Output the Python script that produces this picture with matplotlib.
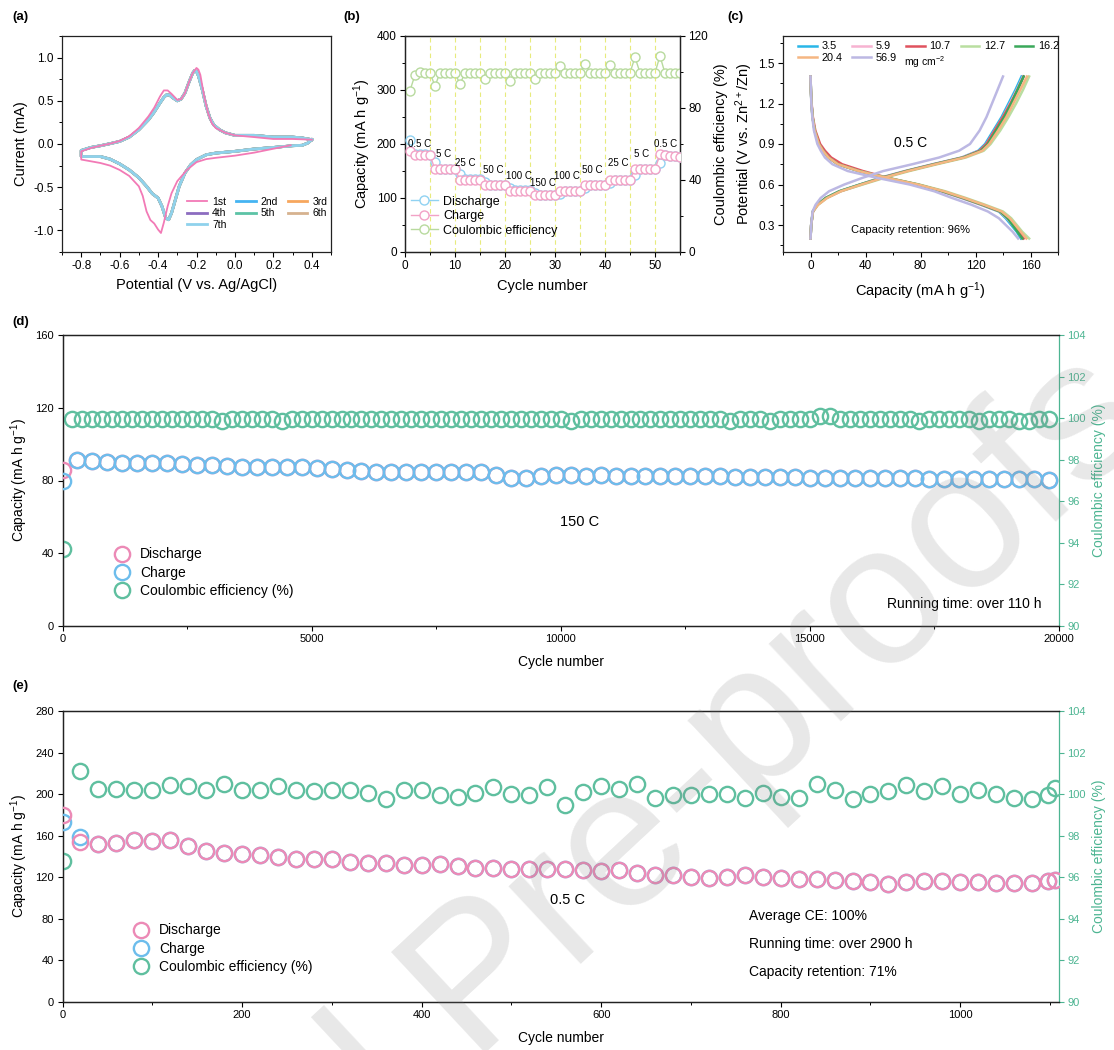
import matplotlib
matplotlib.use('Agg')
import matplotlib.pyplot as plt
from matplotlib.lines import Line2D
from matplotlib.ticker import MultipleLocator

plt.rcParams['font.family'] = ['Liberation Sans', 'DejaVu Sans']
plt.rcParams['mathtext.fontset'] = 'custom'
plt.rcParams['mathtext.rm'] = 'Liberation Sans'
plt.rcParams['mathtext.it'] = 'Liberation Sans:italic'
plt.rcParams['axes.linewidth'] = 0.9
plt.rcParams['axes.edgecolor'] = '#222222'

# ---------------- (a) CV data ----------------
cv1_E = [0.29, 0.2, 0.1, 0.0, -0.1, -0.15, -0.2, -0.25, -0.3, -0.33, -0.35, -0.37, -0.385, -0.40,
         -0.42, -0.44, -0.46, -0.48, -0.5, -0.55, -0.6, -0.65, -0.7, -0.75, -0.8,
         -0.8, -0.75, -0.7, -0.65, -0.6, -0.55, -0.5, -0.45, -0.42, -0.39, -0.37, -0.35, -0.33,
         -0.3, -0.28, -0.26, -0.24, -0.22, -0.2, -0.19, -0.18, -0.16, -0.14, -0.12, -0.1, -0.05,
         0.0, 0.1, 0.2, 0.3, 0.4]
cv1_I = [-0.015, -0.055, -0.10, -0.135, -0.16, -0.175, -0.21, -0.30, -0.43, -0.57, -0.72, -0.91, -1.03, -0.99,
         -0.92, -0.88, -0.78, -0.60, -0.49, -0.37, -0.30, -0.25, -0.22, -0.20, -0.18,
         -0.085, -0.046, -0.02, 0.004, 0.035, 0.09, 0.185, 0.32, 0.42, 0.55, 0.62, 0.62, 0.58,
         0.51, 0.52, 0.59, 0.71, 0.82, 0.88, 0.86, 0.80, 0.55, 0.36, 0.24, 0.185, 0.13,
         0.10, 0.08, 0.058, 0.058, 0.05]
cvn_E = [0.4, 0.38, 0.35, 0.3, 0.2, 0.1, 0.0, -0.1, -0.15, -0.2, -0.23, -0.26, -0.29, -0.31, -0.33,
         -0.345, -0.36, -0.38, -0.4, -0.43, -0.46, -0.5, -0.55, -0.6, -0.65, -0.7, -0.75, -0.8,
         -0.8, -0.75, -0.7, -0.65, -0.6, -0.55, -0.5, -0.45, -0.42, -0.39, -0.37, -0.355, -0.34,
         -0.32, -0.3, -0.28, -0.26, -0.24, -0.22, -0.21, -0.2, -0.19, -0.17, -0.15, -0.13, -0.11,
         -0.08, -0.05, 0.0, 0.1, 0.2, 0.3, 0.35, 0.4]
cvn_I = [0.05, 0.012, -0.015, -0.02, -0.04, -0.058, -0.085, -0.105, -0.125, -0.18, -0.24, -0.335, -0.49, -0.645, -0.80,
         -0.876, -0.857, -0.72, -0.625, -0.575, -0.49, -0.39, -0.30, -0.23, -0.175, -0.145, -0.145, -0.145,
         -0.075, -0.04, -0.02, 0.004, 0.03, 0.08, 0.165, 0.28, 0.37, 0.475, 0.54, 0.57, 0.565,
         0.53, 0.50, 0.52, 0.59, 0.71, 0.82, 0.85, 0.84, 0.79, 0.63, 0.44, 0.30, 0.22,
         0.165, 0.13, 0.10, 0.10, 0.08, 0.08, 0.07, 0.05]
cv_labels = ['1st', '2nd', '3rd', '4th', '5th', '6th', '7th']
cv_colors = ['#f27ab6', '#45b4f2', '#f7a75e', '#8c6cc0', '#5cc3a6', '#d6b28f', '#8fd2ec']

# ---------------- (b) rate data ----------------
cycles_b = list(range(1, 56))
discharge_b = [207, 181, 181, 181, 180, 166, 154, 154, 154, 154, 144, 135, 135, 135, 135,
               130, 125, 125, 125, 125, 118, 114, 114, 114, 114, 110, 106, 106, 106, 106,
               108, 113, 113, 113, 113, 118, 124, 124, 124, 124, 128, 134, 134, 134, 134,
               142, 153, 153, 153, 153, 165, 180, 178, 177, 176]
charge_b = [187, 180, 180, 180, 179, 153, 153, 153, 153, 153, 134, 134, 134, 134, 134,
            124, 124, 124, 124, 124, 113, 113, 113, 113, 113, 105, 105, 105, 105, 105,
            113, 113, 113, 113, 113, 124, 124, 124, 124, 124, 134, 134, 134, 134, 134,
            153, 153, 153, 153, 153, 181, 180, 178, 177, 176]
ce_b = [89.7, 98.4, 100.2, 99.6, 99.6, 92.2, 99.6, 99.6, 99.6, 99.6, 93.2, 99.6, 99.6, 99.6, 99.6,
        96.0, 99.6, 99.6, 99.6, 99.6, 95.0, 99.6, 99.6, 99.6, 99.6, 96.3, 99.6, 99.6, 99.6, 99.6,
        103.4, 99.6, 99.6, 99.6, 99.6, 104.5, 99.6, 99.6, 99.6, 99.6, 103.7, 99.6, 99.6, 99.6, 99.6,
        108.2, 99.6, 99.6, 99.6, 99.6, 108.9, 99.3, 99.6, 99.6, 99.6]
rate_lines_b = [5, 10, 15, 20, 25, 30, 35, 40, 45, 50]
rate_labels = ['0.5 C', '5 C', '25 C', '50 C', '100 C', '150 C', '100 C', '50 C', '25 C', '5 C', '0.5 C']
rate_label_xy = [(3, 200), (7.8, 181), (12, 165), (17.6, 152), (22.8, 141), (27.6, 128),
                 (32.4, 141), (37.4, 152), (42.6, 165), (47.4, 181), (52.2, 200)]

# ---------------- (c) GCD data ----------------
loadings = ['3.5', '5.9', '10.7', '12.7', '16.2', '20.4', '56.9']
load_colors = ['#29b6e8', '#f7b3d1', '#e0525e', '#b9dea0', '#3aa85a', '#f5b682', '#bcb8e3']
v_chg = [0.20, 0.30, 0.40, 0.45, 0.50, 0.55, 0.60, 0.65, 0.70, 0.75, 0.80, 0.85, 0.90, 1.00, 1.10, 1.20, 1.30, 1.40]
cap_chg = {
    '3.5':  [0, 0.5, 1.7, 5, 11, 21, 36, 51, 69, 89, 110, 122, 127, 133, 139, 144, 149, 153.5],
    '5.9':  [0, 0.5, 1.7, 5, 11, 21, 36, 51, 69, 89, 110, 123, 128, 134, 140, 145, 150, 154.5],
    '10.7': [0, 0.5, 1.8, 5, 11.5, 22, 37, 52, 70, 90, 111, 123, 128, 134, 140, 145.5, 150.5, 155],
    '12.7': [0, 0.5, 1.8, 5.5, 12, 22, 38, 54, 72, 92, 113, 126, 131, 138, 144, 149.5, 154.5, 159],
    '16.2': [0, 0.5, 1.7, 5, 11, 21, 36, 52, 70, 90, 111, 124, 129, 135, 141, 146, 150.5, 155],
    '20.4': [0, 0.5, 1.8, 5.5, 12, 22, 37, 53, 71, 91, 112, 125, 130, 136.5, 142.5, 147.5, 152.5, 157.5],
    '56.9': [0, 0.5, 1.5, 3.7, 7.4, 13.5, 24.6, 38, 53, 74, 93.6, 108, 116, 123, 128, 132, 136, 140],
}
v_dis = [1.40, 1.30, 1.20, 1.10, 1.00, 0.90, 0.85, 0.80, 0.75, 0.70, 0.65, 0.60, 0.55, 0.50,
         0.45, 0.40, 0.35, 0.30, 0.25, 0.20]
cap_dis = {
    '3.5':  [0, 0.3, 0.7, 1.5, 3, 6, 9, 13, 20, 35, 55, 77, 95, 110, 124, 137, 142, 146, 150, 153],
    '5.9':  [0, 0.3, 0.7, 1.5, 3, 6, 9, 13, 20, 35, 55, 77, 95, 110, 124, 137.5, 143, 147, 151, 154],
    '10.7': [0, 0.3, 0.8, 1.7, 3.5, 7, 10.5, 15, 23, 38, 56, 78, 96, 111, 125, 138, 143.5, 147.5, 151.5, 155],
    '12.7': [0, 0.3, 0.7, 1.5, 3, 6, 9, 13, 20, 35, 56, 79, 98, 113, 127, 140, 146, 150, 154, 159],
    '16.2': [0, 0.3, 0.7, 1.5, 3, 6, 9, 13, 20, 35, 55, 78, 96, 111, 125, 138, 143.5, 147, 150.5, 154],
    '20.4': [0, 0.3, 0.7, 1.5, 3, 6, 9, 13, 20, 35, 55, 78, 97, 112, 126, 139, 145, 149, 153, 157],
    '56.9': [0, 0.3, 0.6, 1.3, 2.5, 5, 7.5, 10.5, 16, 27, 48, 72, 90, 103, 117, 129, 137, 142, 147, 151],
}

# ---------------- (d) 150 C long cycling ----------------
cycles_d_cap = list(range(0, 20000, 300))
charge_d = [80, 91.3, 90.9, 90.4, 89.8, 89.8, 89.8, 89.4, 88.9, 88.5, 88.5,
            88.0, 87.6, 87.6, 87.6, 87.2, 87.2, 86.9, 86.5, 85.8, 85.4,
            84.9, 84.9, 84.9, 84.9, 84.9, 84.5, 84.5, 84.7, 83.0, 81.2,
            81.2, 82.7, 83.0,
            82.8, 82.7, 82.8, 82.6, 82.6, 82.5, 82.5, 82.4, 82.3, 82.3,
            82.2, 82.0, 81.9, 81.9, 81.8, 81.7, 81.6, 81.6, 81.5, 81.4,
            81.3, 81.3, 81.2, 81.1, 81.0, 81.0, 80.9, 80.8, 80.8, 80.7,
            80.6, 80.6, 80.5]
discharge_d = [86] + charge_d[1:]
cycles_d_ce = list(range(0, 20000, 200))
ce_d = [93.7, 99.98, 99.97, 99.98, 99.98, 99.97, 99.98, 99.98, 99.97, 99.98,
        99.98, 99.97, 99.98, 99.98, 99.97, 99.98, 99.85, 99.97, 99.98, 99.98,
        99.97, 99.98, 99.85, 99.97, 99.98, 99.98, 99.97, 99.98, 99.98, 99.97,
        99.98, 99.98, 99.97, 99.98, 99.98, 99.97, 99.98, 99.98, 99.97, 99.98,
        99.98, 99.97, 99.98, 99.98, 99.97, 99.98, 99.98, 99.97, 99.98, 99.98,
        99.97, 99.85, 99.98, 99.98, 99.97, 99.98, 99.98, 99.97, 99.98, 99.98,
        99.97, 99.98, 99.98, 99.97, 99.98, 99.98, 99.97, 99.88, 99.98, 99.98,
        99.97, 99.85, 99.98, 99.98, 99.97, 99.98, 100.08, 100.10, 99.98, 99.98,
        99.97, 99.98, 99.98, 99.97, 99.98, 99.98, 99.87, 99.98, 99.98, 99.97,
        99.98, 99.98, 99.87, 99.98, 99.98, 99.97, 99.87, 99.85, 99.98, 99.98]

# ---------------- (e) 0.5 C long cycling ----------------
cycles_e = list(range(0, 1100, 20)) + [1098, 1106]
discharge_e = [180, 154, 152.3, 153, 155.5, 155, 155.5, 150, 145.3, 143.4,
               142, 141.4, 140, 137.9, 137.9, 137.3, 134.7, 133.7, 133.7, 131.5,
               131.5, 132.5, 130.9, 129.2, 129.2, 127.6, 127.6, 127.6, 128.3, 127.3,
               126, 127.3, 124, 121.9, 121.9, 120.3, 119.6, 120.3, 121.9, 120.3,
               119.3, 118, 118, 117, 116, 115.5, 113.9, 115.5, 116, 116,
               115.5, 115.5, 114.8, 114.8, 114.8, 116, 117]
charge_e = [173, 158.5] + discharge_e[2:]
ce_e = [96.77, 101.1, 100.26, 100.26, 100.2, 100.2, 100.45, 100.4, 100.18, 100.47,
        100.18, 100.2, 100.4, 100.18, 100.15, 100.18, 100.2, 100.05, 99.75, 100.2,
        100.18, 99.97, 99.86, 100.05, 100.34, 100.02, 99.94, 100.34, 99.46, 100.1,
        100.37, 100.26, 100.47, 99.81, 99.94, 99.94, 100.02, 100.02, 99.83, 100.05,
        99.86, 99.83, 100.47, 100.2, 99.78, 100.02, 100.15, 100.42, 100.15, 100.37,
        100.02, 100.18, 100.02, 99.83, 99.78, 99.94, 100.31]

# ---------------- figure ----------------
W, H = 1114, 1050
fig = plt.figure(figsize=(W / 100, H / 100), dpi=100)


def rect(l, t, r, b):
    return [l / W, 1 - b / H, (r - l) / W, (b - t) / H]


def style(ax, fs):
    ax.tick_params(which='major', direction='out', length=3.5, width=0.8, labelsize=fs, pad=2.5)
    ax.tick_params(which='minor', direction='out', length=2, width=0.7)


PINK = '#ec8ab6'
BLUE = '#6dbdec'
GREEN = '#5fbf9f'
GREEN_AX = '#4db592'

# (a)
ax = fig.add_axes(rect(62, 36, 331, 252))
ax.plot(cv1_E, cv1_I, color=cv_colors[0], lw=1.3, label=cv_labels[0], zorder=3)
for i in range(1, 7):
    ax.plot(cvn_E, cvn_I, color=cv_colors[i], lw=2.0, label=cv_labels[i], zorder=2 + i * 0.1)
ax.set_xlim(-0.9, 0.5)
ax.set_ylim(-1.25, 1.25)
ax.xaxis.set_minor_locator(MultipleLocator(0.1))
ax.yaxis.set_minor_locator(MultipleLocator(0.25))
ax.set_xticks([-0.8, -0.6, -0.4, -0.2, 0.0, 0.2, 0.4])
ax.set_xticklabels(['-0.8', '-0.6', '-0.4', '-0.2', '0.0', '0.2', '0.4'])
ax.set_yticks([-1.0, -0.5, 0.0, 0.5, 1.0])
ax.set_yticklabels(['-1.0', '-0.5', '0.0', '0.5', '1.0'])
style(ax, 8.5)
ax.set_xlabel('Potential (V vs. Ag/AgCl)', fontsize=10.5, labelpad=4)
ax.set_ylabel('Current (mA)', fontsize=10.5, labelpad=4)
h, l = ax.get_legend_handles_labels()
order = [0, 3, 6, 1, 4, 2, 5]
ax.legend([h[i] for i in order], [l[i] for i in order], ncol=3, loc='upper left',
          bbox_to_anchor=(0.465, 0.255), frameon=False, fontsize=7.5, handlelength=1.9,
          handletextpad=0.5, columnspacing=0.9, labelspacing=0.15, borderpad=0, borderaxespad=0)
ax.set_facecolor('none')

# (b)
axb = fig.add_axes(rect(405, 36, 680, 252))
axb2 = axb.twinx()
for xv in rate_lines_b:
    axb.axvline(xv, color='#e2e65c', lw=0.8, ls=(0, (4, 3)), alpha=0.8, zorder=1)
axb.plot(cycles_b, discharge_b, '-o', color='#90d2f2', mfc='white', mec='#90d2f2', ms=6.5, mew=1.0,
         lw=1.0, label='Discharge', zorder=3)
axb.plot(cycles_b, charge_b, '-o', color='#f2a2c6', mfc='white', mec='#f2a2c6', ms=6.5, mew=1.0,
         lw=1.0, label='Charge', zorder=4)
axb2.plot(cycles_b, ce_b, '-o', color='#b8da9e', mfc='white', mec='#b8da9e', ms=6.5, mew=1.0,
          lw=1.0, label='Coulombic efficiency', zorder=3)
for txt, (xx, yy) in zip(rate_labels, rate_label_xy):
    axb.text(xx, yy, txt, fontsize=7, ha='center', va='center', zorder=6)
axb.set_xlim(0, 55)
axb.set_ylim(0, 400)
axb2.set_ylim(0, 120)
axb.xaxis.set_major_locator(MultipleLocator(10))
axb.xaxis.set_minor_locator(MultipleLocator(5))
axb.yaxis.set_major_locator(MultipleLocator(100))
axb.yaxis.set_minor_locator(MultipleLocator(50))
axb2.yaxis.set_major_locator(MultipleLocator(40))
axb2.yaxis.set_minor_locator(MultipleLocator(20))
style(axb, 8.5)
style(axb2, 8.5)
axb.set_xlabel('Cycle number', fontsize=10.5, labelpad=5)
axb.set_ylabel('Capacity (mA h g$^{-1}$)', fontsize=10.5, labelpad=3)
axb2.set_ylabel('Coulombic efficiency (%)', fontsize=10.5, labelpad=4)
hb = axb.get_legend_handles_labels()
hb2 = axb2.get_legend_handles_labels()
axb.legend(hb[0] + hb2[0], hb[1] + hb2[1], loc='upper left', bbox_to_anchor=(0.02, 0.26),
           frameon=False, fontsize=9, handlelength=2.2, handletextpad=0.4, labelspacing=0.2,
           borderpad=0, borderaxespad=0)
axb.set_facecolor('none')
axb.set_zorder(2)
axb2.set_zorder(1)

# (c)
axc = fig.add_axes(rect(783, 36, 1058, 252))
lines_c = {}
for name, col in zip(loadings, load_colors):
    ln, = axc.plot(cap_chg[name], v_chg, color=col, lw=1.8, label=name)
    axc.plot(cap_dis[name], v_dis, color=col, lw=1.8)
    lines_c[name] = ln
axc.set_xlim(-20, 180)
axc.set_ylim(0.1, 1.7)
axc.xaxis.set_major_locator(MultipleLocator(40))
axc.xaxis.set_minor_locator(MultipleLocator(20))
axc.yaxis.set_major_locator(MultipleLocator(0.3))
axc.yaxis.set_minor_locator(MultipleLocator(0.15))
style(axc, 8.5)
axc.set_xlabel('Capacity (mA h g$^{-1}$)', fontsize=10.5, labelpad=6)
axc.set_ylabel('Potential (V vs. Zn$^{2+}$/Zn)', fontsize=10.5, labelpad=2)
leg_order = ['3.5', '20.4', '5.9', '56.9', '10.7', '12.7', '16.2']
axc.legend([lines_c[k] for k in leg_order], leg_order, ncol=5, loc='upper left',
           bbox_to_anchor=(0.055, 0.975), frameon=False, fontsize=7.8, handlelength=1.7,
           handletextpad=0.45, columnspacing=0.9, labelspacing=0.15, borderpad=0, borderaxespad=0)
axc.text(0.44, 0.88, 'mg cm$^{-2}$', transform=axc.transAxes, fontsize=7.5, ha='left', va='center')
axc.text(72.7, 0.904, '0.5 C', fontsize=10, ha='center', va='center')
axc.text(72.7, 0.26, 'Capacity retention: 96%', fontsize=8, ha='center', va='center')
axc.set_facecolor('none')

# (d)
axd = fig.add_axes(rect(62.5, 335, 1059, 626))
axd2 = axd.twinx()
MS, MEW = 11, 1.7
axd.plot(cycles_d_cap, discharge_d, 'o', ls='none', mfc='none', mec=PINK, ms=MS, mew=MEW, zorder=3)
axd.plot(cycles_d_cap, charge_d, 'o', ls='none', mfc='none', mec=BLUE, ms=MS, mew=MEW, zorder=4)
axd2.plot(cycles_d_ce, ce_d, 'o', ls='none', mfc='none', mec=GREEN, ms=MS, mew=MEW, zorder=3)
axd.set_xlim(0, 20000)
axd.set_ylim(0, 160)
axd2.set_ylim(90, 104)
axd.xaxis.set_major_locator(MultipleLocator(5000))
axd.xaxis.set_minor_locator(MultipleLocator(2500))
axd.yaxis.set_major_locator(MultipleLocator(40))
axd2.yaxis.set_major_locator(MultipleLocator(2))
style(axd, 8)
style(axd2, 8)
axd.set_xlabel('Cycle number', fontsize=10, labelpad=8)
axd.set_ylabel('Capacity (mA h g$^{-1}$)', fontsize=10, labelpad=4)
axd2.set_ylabel('Coulombic efficiency (%)', fontsize=10, color=GREEN_AX, labelpad=4)
axd2.tick_params(axis='y', colors=GREEN_AX)
axd2.spines['right'].set_color(GREEN_AX)
axd.spines['right'].set_visible(False)
axd.text(10385, 57.3, '150 C', fontsize=10.5, ha='center', va='center')
axd.text(19657, 12.1, 'Running time: over 110 h', fontsize=10, ha='right', va='center')

# (e)
axe = fig.add_axes(rect(62.5, 711, 1059, 1002))
axe2 = axe.twinx()
axe.plot(cycles_e, charge_e, 'o', ls='none', mfc='none', mec=BLUE, ms=MS, mew=MEW, zorder=3)
axe.plot(cycles_e, discharge_e, 'o', ls='none', mfc='none', mec=PINK, ms=MS, mew=MEW, zorder=4)
axe2.plot(cycles_e, ce_e, 'o', ls='none', mfc='none', mec=GREEN, ms=MS, mew=MEW, zorder=3)
axe.set_xlim(0, 1110)
axe.set_ylim(0, 280)
axe2.set_ylim(90, 104)
axe.xaxis.set_major_locator(MultipleLocator(200))
axe.xaxis.set_minor_locator(MultipleLocator(100))
axe.yaxis.set_major_locator(MultipleLocator(40))
axe2.yaxis.set_major_locator(MultipleLocator(2))
style(axe, 8)
style(axe2, 8)
axe.set_xlabel('Cycle number', fontsize=10, labelpad=8)
axe.set_ylabel('Capacity (mA h g$^{-1}$)', fontsize=10, labelpad=4)
axe2.set_ylabel('Coulombic efficiency (%)', fontsize=10, color=GREEN_AX, labelpad=4)
axe2.tick_params(axis='y', colors=GREEN_AX)
axe2.spines['right'].set_color(GREEN_AX)
axe.spines['right'].set_visible(False)
axe.text(562, 97.9, '0.5 C', fontsize=10.5, ha='center', va='center')
axe.text(765, 82.5, 'Average CE: 100%', fontsize=10, ha='left', va='center')
axe.text(765, 55.5, 'Running time: over 2900 h', fontsize=10, ha='left', va='center')
axe.text(765, 28.9, 'Capacity retention: 71%', fontsize=10, ha='left', va='center')

# legends for (d) and (e)
leg_handles = [Line2D([], [], marker='o', ls='none', mfc='none', mec=c, ms=MS, mew=MEW)
               for c in (PINK, BLUE, GREEN)]
leg_labels = ['Discharge', 'Charge', 'Coulombic efficiency (%)']
for a, bx in ((axd, 0.052), (axe, 0.071)):
    a.legend(leg_handles, leg_labels, loc='upper left', bbox_to_anchor=(bx, 0.27),
             frameon=False, fontsize=10, handlelength=1.1, handletextpad=0.75,
             labelspacing=0.32, borderpad=0, borderaxespad=0)
    a.set_zorder(2)
    a.set_facecolor('none')
axd2.set_zorder(1)
axe2.set_zorder(1)

# panel letters
for txt, (px, py) in zip(['(a)', '(b)', '(c)', '(d)', '(e)'],
                         [(12, 17), (343, 17), (727, 17), (12, 322), (12, 686)]):
    fig.text(px / W, 1 - py / H, txt, fontsize=9.5, fontweight='bold', ha='left', va='center')

# watermark (as in the reference page, running off the figure edge)
fig.text(1157 / W, 1 - 427 / H, 'Journal Pre-proofs', rotation=43, rotation_mode='anchor',
         ha='right', va='baseline', fontsize=144, color='#7f7f7f', alpha=0.18, zorder=10)

fig.savefig('out.png', dpi=100)
